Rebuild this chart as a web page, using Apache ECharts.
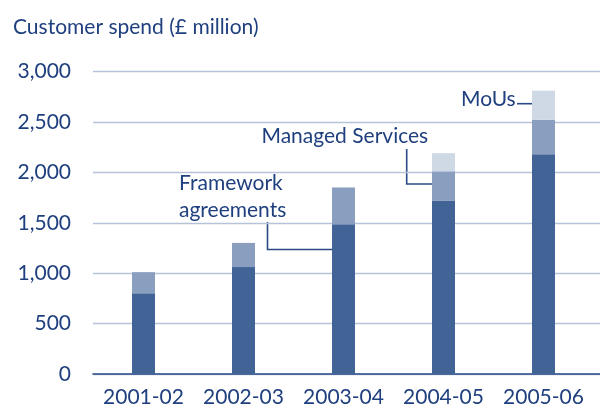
<!DOCTYPE html>
<html>
<head>
<meta charset="utf-8">
<script src="https://cdn.jsdelivr.net/npm/echarts@6/dist/echarts.min.js"></script>
<style>
  html, body { margin: 0; padding: 0; background: #ffffff; }
  #chart { width: 600px; height: 409px; }
</style>
</head>
<body>
<div id="chart"></div>
<script>
// Customer spend by route, £ million
const years = ['2001-02', '2002-03', '2003-04', '2004-05', '2005-06'];
const framework = [800, 1060, 1485, 1720, 2180];
const managed = [210, 240, 365, 290, 340];
const mous = [0, 0, 0, 180, 290];
const yTicks = [0, 500, 1000, 1500, 2000, 2500, 3000];

const FONT = 'Lato';
const SIZE = 21;
const NAVY = '#1f3f7e';
const LINE = '#2a4a86';
const TXT = SIZE + 'px ' + FONT;

const chart = echarts.init(document.getElementById('chart'), null, { renderer: 'canvas' });

const fmt = v => v.toLocaleString('en-GB');

chart.setOption({
  animation: false,
  grid: [
    // full-width frame for gridlines and baseline
    { left: 93, right: 0, top: 71.5, bottom: 35, containLabel: false },
    // plotting area for the bars
    { left: 93.5, right: 6.5, top: 71.5, bottom: 35, containLabel: false }
  ],
  xAxis: [
    {
      type: 'value', gridIndex: 0, min: 0, max: 1,
      axisLine: { show: true, lineStyle: { color: LINE, width: 1.6 } },
      axisTick: { show: false }, axisLabel: { show: false }, splitLine: { show: false }
    },
    {
      type: 'category', gridIndex: 1, data: years,
      axisLine: { show: false }, axisTick: { show: false },
      axisLabel: { color: NAVY, fontFamily: FONT, fontSize: SIZE, margin: 13, interval: 0 }
    }
  ],
  yAxis: [
    {
      type: 'value', gridIndex: 0, min: yTicks[0], max: yTicks[yTicks.length - 1], interval: 500,
      axisLine: { show: false }, axisTick: { show: false },
      axisLabel: { color: NAVY, fontFamily: FONT, fontSize: SIZE, margin: 22, formatter: fmt },
      splitLine: { show: true, lineStyle: { color: '#b6c2d8', width: 1.4 } }
    },
    {
      type: 'value', gridIndex: 1, min: yTicks[0], max: yTicks[yTicks.length - 1], interval: 500,
      show: false, splitLine: { show: false }
    }
  ],
  series: [
    {
      name: 'Framework agreements', type: 'bar', stack: 'spend', xAxisIndex: 1, yAxisIndex: 1,
      barWidth: 23, data: framework, itemStyle: { color: '#426396' }
    },
    {
      name: 'Managed Services', type: 'bar', stack: 'spend', xAxisIndex: 1, yAxisIndex: 1,
      barWidth: 23, data: managed, itemStyle: { color: '#8a9ebf' }
    },
    {
      name: 'MoUs', type: 'bar', stack: 'spend', xAxisIndex: 1, yAxisIndex: 1,
      barWidth: 23, data: mous.map(v => v || null), itemStyle: { color: '#cfd9e6' }
    }
  ],
  graphic: [
    { type: 'text', x: 13, y: 27,
      style: { text: 'Customer spend (£ million)', fill: NAVY, font: TXT, verticalAlign: 'middle' } },
    // series call-outs
    { type: 'text', x: 179, y: 183,
      style: { text: 'Framework', fill: NAVY, font: TXT, verticalAlign: 'middle' } },
    { type: 'text', x: 179, y: 210,
      style: { text: 'agreements', fill: NAVY, font: TXT, verticalAlign: 'middle' } },
    { type: 'polyline', shape: { points: [[267.5, 222], [267.5, 249.5], [332, 249.5]] },
      style: { stroke: LINE, lineWidth: 1.6, fill: null } },
    { type: 'text', x: 261.5, y: 136,
      style: { text: 'Managed Services', fill: NAVY, font: TXT, verticalAlign: 'middle' } },
    { type: 'polyline', shape: { points: [[406.7, 149], [406.7, 184], [432, 184]] },
      style: { stroke: LINE, lineWidth: 1.6, fill: null } },
    { type: 'text', x: 461, y: 99,
      style: { text: 'MoUs', fill: NAVY, font: TXT, verticalAlign: 'middle' } },
    { type: 'line', shape: { x1: 517, y1: 103.7, x2: 532, y2: 103.7 },
      style: { stroke: LINE, lineWidth: 1.6 } }
  ]
});
</script>
</body>
</html>
